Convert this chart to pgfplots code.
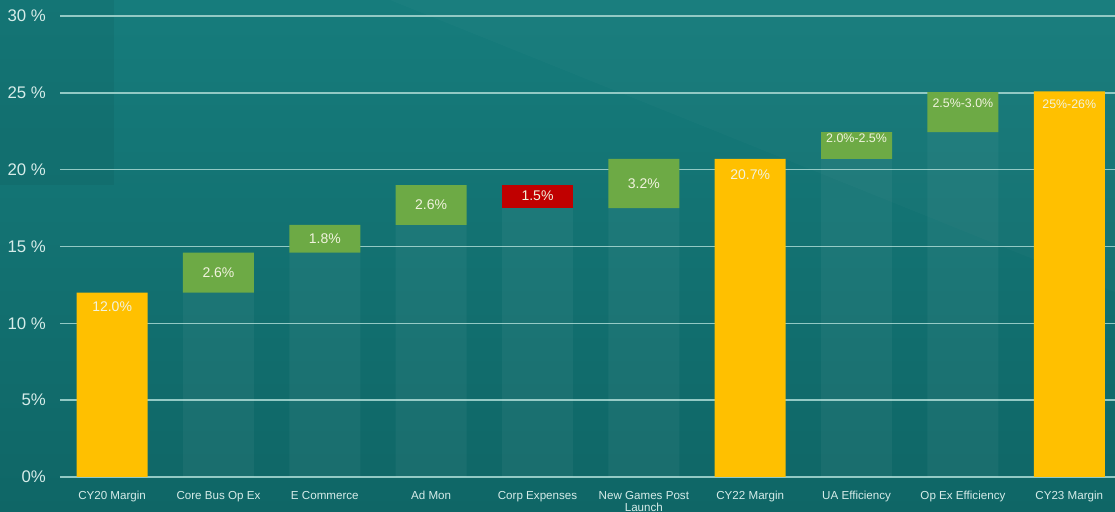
\documentclass[border=0pt]{standalone}
\usepackage{pgfplots}
\pgfplotsset{compat=1.18}
\usepackage{fontspec}
\setmainfont{Liberation Sans}
\definecolor{bgtop}{HTML}{167C7C}
\definecolor{bgbot}{HTML}{0F6666}
\definecolor{gridc}{HTML}{92C9C4}
\definecolor{ticktxt}{HTML}{D6ECE9}
\definecolor{barY}{HTML}{FFC000}
\definecolor{barG}{HTML}{6DAA45}
\definecolor{barR}{HTML}{C00000}
\definecolor{lbl}{HTML}{F1F3DE}
\begin{document}
\begin{tikzpicture}
\path[use as bounding box] (0,0) rectangle (557.5pt,256pt);
\shade[top color=bgtop, bottom color=bgbot] (0,0) rectangle (557.5pt,256pt);
\fill[black, opacity=0.05] (0,163.5pt) rectangle (57pt,256pt);
\fill[white, opacity=0.02] (195pt,256pt) -- (557.5pt,256pt) -- (557.5pt,110pt) -- cycle;
\begin{axis}[
  at={(30pt,17.5pt)}, anchor=south west,
  scale only axis, width=527.5pt, height=230.5pt,
  xmin=-0.49, xmax=9.43, ymin=0, ymax=30,
  ybar stacked, bar width=35.5pt,
  axis line style={draw=none},
  major tick length=0pt,
  ymajorgrids, grid style={gridc, line width=0.7pt},
  ytick={0,5,10,15,20,25,30},
  yticklabels={0\%,5\%,10 \%,15 \%,20 \%,25 \%,30 \%},
  yticklabel style={font=\fontsize{8.4}{10}\selectfont, text=ticktxt, anchor=east, xshift=-3.5pt},
  xtick={0,...,9},
  xticklabels={CY20 Margin, Core Bus Op Ex, E Commerce, Ad Mon, Corp Expenses, New Games Post\\Launch, CY22 Margin, UA Efficiency, Op Ex Efficiency, CY23 Margin},
  xticklabel style={font=\fontsize{5.8}{6.4}\selectfont, text=ticktxt, align=center, anchor=north, yshift=-3.5pt},
  clip=false,
]
\addplot[fill=white, fill opacity=0.045, draw=none] coordinates {(0,0) (1,12) (2,14.6) (3,16.4) (4,17.5) (5,17.5) (6,0) (7,20.7) (8,22.45) (9,0)};
\addplot[fill=barY, draw=none] coordinates {(0,12) (1,0) (2,0) (3,0) (4,0) (5,0) (6,20.7) (7,0) (8,0) (9,25.1)};
\addplot[fill=barG, draw=none] coordinates {(0,0) (1,2.6) (2,1.8) (3,2.6) (4,0) (5,3.2) (6,0) (7,1.75) (8,2.6) (9,0)};
\addplot[fill=barR, draw=none] coordinates {(0,0) (1,0) (2,0) (3,0) (4,1.5) (5,0) (6,0) (7,0) (8,0) (9,0)};
\end{axis}
\begin{axis}[
  at={(30pt,17.5pt)}, anchor=south west,
  scale only axis, width=527.5pt, height=230.5pt,
  xmin=-0.49, xmax=9.43, ymin=0, ymax=30,
  hide axis, clip=false,
]
\addplot[draw=none, mark=none, nodes near coords, point meta=explicit symbolic,
  nodes near coords style={anchor=center, text=lbl, font=\fontsize{7}{8}\selectfont}]
  coordinates {(0,11.06)[12.0\%] (1,13.3)[2.6\%] (2,15.5)[1.8\%] (3,17.7)[2.6\%] (4,18.3)[1.5\%] (5,19.1)[3.2\%] (6,19.7)[20.7\%]};
\addplot[draw=none, mark=none, nodes near coords, point meta=explicit symbolic,
  nodes near coords style={anchor=center, text=lbl, font=\fontsize{6.2}{7}\selectfont}]
  coordinates {(7,22.06)[2.0\%-2.5\%] (8,24.33)[2.5\%-3.0\%] (9,24.27)[25\%-26\%]};
\end{axis}
\end{tikzpicture}
\end{document}
